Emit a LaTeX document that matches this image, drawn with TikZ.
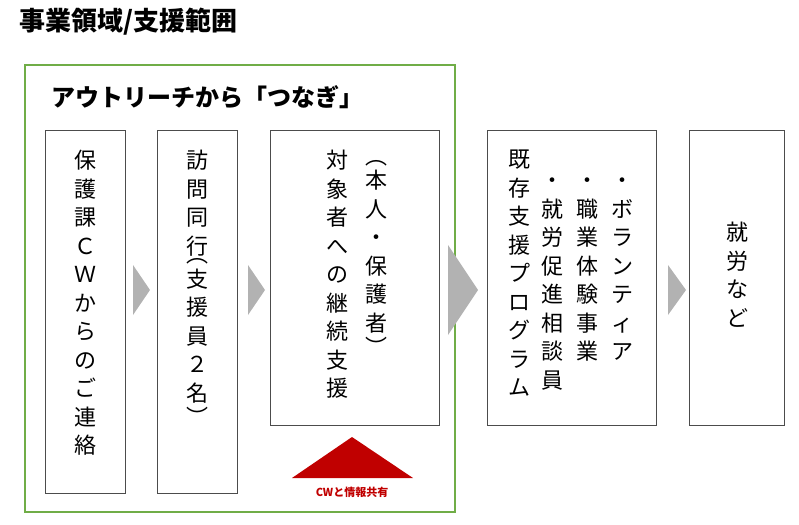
\documentclass[tikz,border=0pt]{standalone}
\usepackage{fontspec}
\newfontfamily\jp{Noto Sans CJK JP}
\usetikzlibrary{positioning}
\definecolor{framegreen}{RGB}{112,173,71}
\definecolor{darkred}{RGB}{192,0,0}
\tikzset{
  stepbox/.style={draw=black!70,line width=0.8pt},
  vcol/.style={anchor=north,inner sep=0pt,align=center,
    font=\jp\fontsize{22}{28.5}\selectfont},
  chevron/.style={fill=black!30,draw=none}
}
\begin{document}
\begin{tikzpicture}[x=1pt,y=-1pt]
\useasboundingbox (0,0) rectangle (799,524);

% title and frame
\node[anchor=west,font=\jp\bfseries\fontsize{26}{30}\selectfont] (title) at (16,22) {事業領域/支援範囲};
\draw[framegreen,line width=2.5pt] (25,65) rectangle (455,512);
\node[anchor=west,font=\jp\bfseries\fontsize{24}{28}\selectfont] (head) at (48,97) {アウトリーチから「つなぎ」};

% boxes
\draw[stepbox] (45,130) rectangle (125,493);
\draw[stepbox] (157,130) rectangle (237,493);
\draw[stepbox] (270,130) rectangle (439,425);
\draw[stepbox] (487,130) rectangle (656,425);
\draw[stepbox] (689,130) rectangle (784,425);

% vertical texts
\node[vcol] (c1) at (85,150) {保\\護\\課\\Ｃ\\Ｗ\\か\\ら\\の\\ご\\連\\絡};
\node[vcol] (c2) at (197,150) {訪\\問\\同\\行\\[-20pt]︵\\[-4pt]支\\援\\員\\２\\名\\[-4pt]︶};
\node[vcol] (c3a) at (337,150) {対\\象\\者\\へ\\の\\継\\続\\支\\援};
\node[vcol] (c3b) at (376,160) {︵\\[-4pt]本\\人\\・\\保\\護\\者\\[-4pt]︶};
\node[vcol] (c4a) at (519,150) {既\\存\\支\\援\\プ\\ロ\\グ\\ラ\\ム};
\node[vcol] (c4b) at (552,178) {・\\就\\労\\促\\進\\相\\談\\員};
\node[vcol] (c4c) at (587,178) {・\\職\\業\\体\\験\\事\\業};
\node[vcol] (c4d) at (622,178) {・\\ボ\\ラ\\ン\\テ\\ィ\\ア};
\node[vcol] (c5) at (737,222) {就\\労\\な\\ど};

% arrows between boxes
\fill[chevron] (133,265) -- (150,290) -- (133,315) -- cycle;
\fill[chevron] (248,265) -- (265,290) -- (248,315) -- cycle;
\fill[chevron] (448,245) -- (478,290) -- (448,335) -- cycle;
\fill[chevron] (668,265) -- (686,290) -- (668,315) -- cycle;

% shared info marker
\fill[darkred] (292,478) -- (352,437) -- (413,478) -- cycle;
\node[font=\jp\bfseries\fontsize{11}{13}\selectfont,text=darkred] (share) at (352,492) {CWと情報共有};
\end{tikzpicture}
\end{document}
